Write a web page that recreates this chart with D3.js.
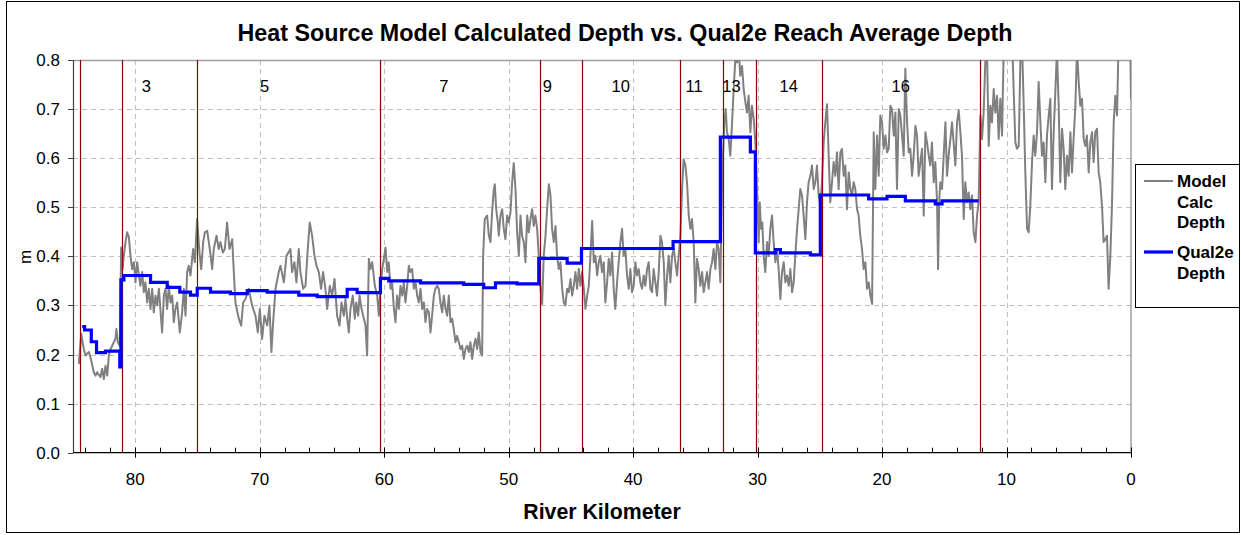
<!DOCTYPE html>
<html><head><meta charset="utf-8">
<script src="https://cdn.jsdelivr.net/npm/d3@7/dist/d3.min.js"></script>
<style>
html,body{margin:0;padding:0;background:#fff;}
svg{display:block;font-family:"Liberation Sans",Arial,sans-serif;}
</style></head>
<body><svg id="chart" width="1241" height="535"></svg>
<script>
// ---------- data ----------
const title = "Heat Source Model Calculated Depth vs. Qual2e Reach Average Depth";
const xTitle = "River Kilometer";
const yTitle = "m";
const xTicksMajor = [80, 70, 60, 50, 40, 30, 20, 10, 0];
const yTicks = [0, 0.1, 0.2, 0.3, 0.4, 0.5, 0.6, 0.7, 0.8];
const legendLabels = [["Model", "Calc", "Depth"], ["Qual2e", "Depth"]];

// reach boundaries (km) and reach labels
const reachBoundaryKm = [84.4, 81.1, 75.0, 60.3, 47.5, 44.1, 36.2, 32.8, 30.1, 24.8, 12.1];
const reachLabels = ["3", "5", "7", "9", "10", "11", "13", "14", "16"];
const reachLabelKm = [79.1, 69.6, 55.2, 46.9, 41.0, 35.1, 32.1, 27.5, 18.5];

// Qual2e reach average depth (step starts)
const qualKm = [84.26, 84.07, 83.53, 83.11, 82.39, 81.24, 81.15, 80.91, 78.77, 77.43, 76.42, 75.56, 75.02, 73.95, 72.35, 71.0, 69.4, 66.86, 65.38, 62.97, 62.17, 60.30, 59.63, 57.08, 53.61, 52.0, 51.06, 49.32, 47.58, 45.30, 44.15, 36.79, 32.99, 30.58, 30.18, 28.57, 28.17, 25.76, 24.96, 21.08, 19.6, 18.13, 15.72, 15.18, 12.24];
const qualDepth = [0.257, 0.250, 0.226, 0.204, 0.207, 0.175, 0.352, 0.361, 0.347, 0.337, 0.327, 0.321, 0.335, 0.327, 0.324, 0.330, 0.327, 0.321, 0.318, 0.333, 0.326, 0.355, 0.350, 0.346, 0.343, 0.336, 0.346, 0.344, 0.396, 0.386, 0.416, 0.430, 0.643, 0.613, 0.407, 0.414, 0.407, 0.403, 0.525, 0.517, 0.522, 0.513, 0.507, 0.513, 0.513];

// Heat Source model calculated depth
const modelKm = [
84.53,84.34,84.13,84.00,83.73,83.59,83.33,83.19,83.06,82.79,82.66,82.52,82.39,82.25,82.12,81.99,81.85,81.72,81.59,81.51,81.40,81.24,
81.13,81.02,80.92,80.78,80.65,80.51,80.38,80.25,80.11,79.98,79.85,79.71,79.58,79.44,79.31,79.18,79.04,78.91,78.77,78.64,78.51,78.37,78.24,78.10,
77.84,77.70,77.57,77.44,77.30,77.17,77.03,76.90,76.77,76.63,76.42,76.23,76.10,75.96,75.83,75.70,75.56,75.35,75.21,75.03,74.84,74.70,74.54,74.41,
74.22,74.01,73.82,73.69,73.47,73.29,73.15,72.96,72.80,72.62,72.43,72.21,72.08,71.95,71.68,71.49,71.33,71.14,70.88,70.61,70.34,70.15,69.99,69.81,
69.62,69.40,69.22,69.06,68.92,68.73,68.47,68.33,68.06,67.85,67.53,67.40,67.21,67.05,66.86,66.73,66.51,66.32,66.14,65.98,65.79,65.60,65.44,65.25,
65.07,64.91,64.72,64.58,64.37,64.18,63.99,63.78,
63.59,63.43,63.24,63.11,62.97,62.84,62.71,62.52,62.36,62.25,62.09,61.98,61.82,61.63,61.50,61.37,61.23,61.10,60.96,60.75,60.56,60.43,60.30,60.16,
59.89,59.76,59.63,59.49,59.36,59.22,59.09,58.96,58.82,58.69,58.55,58.42,58.29,58.15,58.02,57.89,57.75,57.62,57.48,57.35,57.22,57.08,56.95,56.81,
56.68,56.55,56.41,56.28,56.15,56.01,55.88,55.74,55.61,55.48,55.34,55.21,55.07,54.94,54.81,54.67,54.54,54.41,54.27,54.14,54.00,53.87,53.74,53.60,
53.47,53.33,53.20,53.07,52.93,52.80,52.66,52.53,52.40,52.26,52.13,52.05,51.92,51.73,51.59,51.46,51.33,51.19,51.11,51.00,50.87,50.79,50.66,50.52,
50.39,50.26,50.12,49.99,49.85,49.72,49.59,49.45,49.32,49.18,49.05,48.92,48.78,48.65,48.51,48.38,48.25,48.11,47.98,47.85,47.71,47.58,47.44,47.31,
47.18,47.04,46.91,46.77,46.64,46.51,46.37,46.24,46.11,45.97,45.84,45.70,45.57,45.44,45.30,45.17,45.03,44.90,44.77,44.63,44.50,44.36,44.23,44.10,
43.96,43.83,43.69,43.56,43.43,43.29,43.16,43.03,42.89,42.76,
42.63,42.50,42.36,42.23,42.09,41.96,41.83,41.69,41.56,41.43,41.29,41.16,41.02,40.89,40.76,40.62,40.49,40.35,40.22,40.09,39.95,39.82,39.69,39.55,
39.42,39.28,39.15,39.02,38.88,38.75,38.61,38.48,38.35,38.21,38.08,37.94,37.81,37.68,37.54,37.41,37.27,37.14,37.01,36.87,36.74,36.61,36.47,36.34,
36.20,36.07,35.94,35.80,35.67,35.53,35.40,35.27,35.13,35.00,34.87,34.73,34.60,34.46,34.33,34.20,34.06,33.93,33.79,33.66,33.53,33.39,33.26,33.13,
32.99,32.86,32.78,32.67,32.56,32.46,32.32,32.19,32.05,31.92,31.79,31.65,31.52,31.39,31.25,31.12,30.98,30.85,30.72,30.58,30.45,30.31,30.18,30.05,
29.91,29.83,29.72,29.62,29.51,29.38,29.24,29.11,28.98,28.84,28.71,28.57,28.44,28.31,28.17,28.04,27.90,27.77,27.64,27.50,27.37,27.23,27.10,26.97,
26.83,26.70,26.57,26.43,26.30,26.16,26.03,25.90,25.76,25.63,25.49,25.36,25.23,25.09,24.96,24.83,24.69,24.56,24.42,24.29,24.16,24.02,23.89,23.75,
23.62,23.49,23.35,23.22,23.08,22.95,22.82,22.68,22.55,22.42,22.28,22.15,22.01,21.88,21.75,21.61,21.48,
21.34,21.21,21.07,20.94,20.80,20.67,20.54,20.40,20.27,20.14,20.00,19.87,19.73,19.60,19.47,19.33,19.20,19.06,18.93,18.80,18.66,18.53,18.39,18.26,
18.13,17.99,17.86,17.73,17.59,17.46,17.32,17.19,17.06,16.92,16.79,16.65,16.52,16.39,16.25,16.12,15.99,15.85,15.72,15.58,15.50,15.40,15.32,15.18,
15.05,14.91,14.78,14.65,14.51,14.38,14.25,14.11,13.98,13.84,13.71,13.58,13.44,13.31,13.17,13.04,12.91,12.77,12.64,12.50,12.37,12.24,12.10,11.97,
11.84,11.70,11.57,11.43,11.30,11.17,11.03,10.90,10.76,10.63,10.50,10.36,10.23,10.10,9.83,9.56,9.43,9.29,9.16,9.02,8.89,8.76,8.62,8.49,
8.35,8.22,8.09,7.95,7.82,7.69,7.55,7.42,7.28,7.15,7.02,6.88,6.75,6.61,6.48,6.35,6.21,6.08,5.95,5.81,5.68,5.54,5.41,5.28,
5.14,5.01,4.87,4.74,4.61,4.47,4.34,4.20,4.07,3.94,3.80,3.67,3.54,3.40,3.27,3.13,3.00,2.87,2.73,2.60,2.47,2.33,2.20,2.06,
1.93,1.80,1.66,1.53,1.39,1.26,1.12,0.99,0.72,0.46,0.19,0.05,0.00];
const modelDepth = [
.181,.242,.211,.198,.205,.194,.164,.157,.164,.154,.171,.150,.177,.157,.198,.211,.218,.225,.232,.252,.225,.218,
.418,.374,.401,.429,.449,.439,.401,.374,.388,.347,.388,.361,.340,.368,.327,.347,.306,.334,.293,.334,.286,.320,.300,.334,
.245,.320,.334,.293,.340,.306,.320,.266,.293,.306,.245,.286,.334,.279,.368,.381,.361,.415,.388,.476,.408,.374,.429,.449,
.452,.415,.374,.415,.442,.415,.429,.408,.415,.469,.415,.435,.368,.306,.273,.259,.306,.313,.334,.300,.279,.245,.293,.232,
.279,.259,.300,.205,.266,.334,.368,.381,.347,.401,.415,.368,.388,.347,.415,.368,.334,.340,.415,.469,.442,.401,.381,.368,
.334,.368,.334,.293,.340,.320,.354,.279,
.259,.306,.279,.313,.273,.245,.293,.320,.273,.306,.279,.320,.293,.273,.259,.198,.395,.374,.388,.340,.320,.279,.334,.374,
.418,.368,.388,.334,.347,.293,.266,.320,.293,.340,.320,.347,.306,.340,.381,.368,.374,.334,.347,.320,.306,.334,.293,.306,
.266,.293,.286,.245,.279,.320,.334,.340,.334,.306,.286,.320,.293,.279,.320,.266,.273,.252,.225,.238,.225,.211,.218,.191,
.211,.218,.205,.225,.191,.218,.232,.211,.245,.205,.198,.401,.476,.483,.442,.429,.490,.537,.547,.496,.469,.442,.483,.496,
.456,.435,.483,.469,.490,.551,.590,.537,.449,.401,.483,.442,.429,.388,.483,.449,.476,.496,.462,.483,.456,.401,.334,.303,
.401,.442,.496,.547,.524,.456,.429,.462,.401,.374,.388,.334,.306,.300,.334,.327,.354,.320,.340,.368,.334,.374,.340,.368,
.334,.293,.320,.340,.401,.472,.388,.401,.361,.388,
.401,.368,.388,.306,.347,.395,.361,.408,.334,.293,.347,.388,.429,.456,.401,.415,.361,.334,.374,.327,.340,.388,.361,.374,
.347,.334,.361,.340,.374,.388,.334,.327,.374,.347,.320,.368,.442,.429,.388,.300,.361,.401,.347,.401,.415,.388,.361,.401,
.442,.537,.598,.585,.551,.483,.456,.476,.429,.306,.395,.374,.340,.368,.327,.347,.368,.334,.374,.388,.415,.374,.429,.415,
.347,.537,.605,.673,.700,.653,.639,.605,.673,.741,.800,.795,.820,.768,.788,.741,.714,.693,.727,.653,.707,.680,.632,.537,
.429,.510,.456,.469,.401,.368,.429,.401,.456,.483,.429,.388,.415,.374,.313,.368,.388,.347,.361,.340,.374,.327,.347,.401,
.456,.496,.537,.524,.483,.435,.510,.551,.564,.585,.537,.551,.585,.524,.503,.551,.632,.673,.710,.605,.510,.551,.592,.564,
.612,.537,.612,.619,.564,.585,.496,.571,.537,.524,.551,.537,.496,.483,.442,.415,.374,
.388,.334,.347,.320,.303,.653,.537,.646,.564,.687,.673,.619,.646,.612,.619,.707,.700,.646,.693,.537,.700,.687,.646,.605,
.782,.673,.612,.619,.564,.605,.666,.646,.564,.592,.619,.483,.653,.632,.605,.585,.632,.551,.592,.510,.374,.517,.551,.537,
.605,.673,.564,.605,.639,.673,.632,.585,.673,.697,.653,.605,.476,.551,.510,.530,.496,.524,.449,.429,.483,.510,.687,.639,
.693,.800,.820,.625,.707,.673,.741,.693,.727,.639,.721,.646,.820,.850,.880,.850,.741,.632,.619,.625,.795,.840,.707,.571,
.456,.449,.503,.592,.646,.605,.653,.755,.673,.605,.632,.551,.646,.687,.721,.537,.653,.734,.820,.707,.551,.660,.619,.537,
.605,.564,.653,.571,.639,.707,.820,.755,.707,.721,.639,.625,.646,.571,.632,.653,.592,.653,.660,.571,.551,.503,.429,.435,
.442,.334,.401,.503,.673,.727,.687,.850,.900,.880,.850,.820,.720];

// ---------- chart ----------
const W = 1241, H = 535;
const plot = {left: 73, right: 1131, top: 60, bottom: 452.7};
const svg = d3.select("#chart");

const x = d3.scaleLinear().domain([85, 0]).range([plot.left, plot.right]);
const y = d3.scaleLinear().domain([0, 0.8]).range([plot.bottom, plot.top]);

svg.append("rect").attr("x", 0).attr("y", 0).attr("width", W).attr("height", H).attr("fill", "#fff");
// outer chart border
svg.append("rect").attr("x", 6.5).attr("y", 1.5).attr("width", 1233).attr("height", 531)
  .attr("fill", "none").attr("stroke", "#000").attr("stroke-width", 1);

// gridlines
const grid = svg.append("g");
grid.selectAll("line.h").data(yTicks.filter(v => v > 0 && v < 0.8)).join("line")
  .attr("x1", plot.left).attr("x2", plot.right)
  .attr("y1", d => Math.round(y(d)) + 0.5).attr("y2", d => Math.round(y(d)) + 0.5)
  .attr("stroke", "#c0c0c0").attr("stroke-dasharray", "5,4");
grid.selectAll("line.v").data(xTicksMajor.filter(v => v > 0)).join("line")
  .attr("x1", d => Math.round(x(d)) + 0.5).attr("x2", d => Math.round(x(d)) + 0.5)
  .attr("y1", plot.top).attr("y2", plot.bottom)
  .attr("stroke", "#c0c0c0").attr("stroke-dasharray", "5,4");

// plot border top & right (gray)
svg.append("path")
  .attr("d", `M${plot.left},${plot.top + 0.5}H${plot.right}V${plot.bottom}`)
  .attr("fill", "none").attr("stroke", "#a0a0a0").attr("stroke-width", 1.5);

// clip
svg.append("clipPath").attr("id", "clip").append("rect")
  .attr("x", plot.left).attr("y", plot.top).attr("width", plot.right - plot.left).attr("height", plot.bottom - plot.top);

// model line
const modelData = modelKm.map((k, i) => [k, modelDepth[i]]);
svg.append("path").datum(modelData)
  .attr("clip-path", "url(#clip)")
  .attr("d", d3.line().x(d => x(d[0])).y(d => y(d[1])))
  .attr("fill", "none").attr("stroke", "#808080").attr("stroke-width", 2).attr("stroke-linejoin", "round");

// reach boundaries
svg.append("g").selectAll("line").data(reachBoundaryKm).join("line")
  .attr("x1", d => Math.round(x(d)) + 0.5).attr("x2", d => Math.round(x(d)) + 0.5)
  .attr("y1", plot.top).attr("y2", plot.bottom)
  .attr("stroke", "#8b0000").attr("stroke-width", 1.2);

// qual2e step line
const qualData = qualKm.map((k, i) => [k, qualDepth[i]]);
svg.append("path").datum(qualData)
  .attr("d", d3.line().x(d => x(d[0])).y(d => y(d[1])).curve(d3.curveStepAfter))
  .attr("fill", "none").attr("stroke", "#0000ff").attr("stroke-width", 3.2);

// reach labels
svg.append("g").selectAll("text").data(reachLabels).join("text")
  .attr("x", (d, i) => x(reachLabelKm[i])).attr("y", 92)
  .attr("text-anchor", "middle").attr("font-size", 16.5).attr("fill", "#000")
  .text(d => d);

// y axis
svg.append("line").attr("x1", plot.left + 0.5).attr("x2", plot.left + 0.5)
  .attr("y1", plot.top).attr("y2", plot.bottom).attr("stroke", "#404040").attr("stroke-width", 1.2);
svg.append("g").selectAll("line").data(yTicks).join("line")
  .attr("x1", plot.left - 5).attr("x2", plot.left)
  .attr("y1", d => Math.round(y(d)) + 0.5).attr("y2", d => Math.round(y(d)) + 0.5)
  .attr("stroke", "#404040");
svg.append("g").selectAll("text").data(yTicks).join("text")
  .attr("x", 60).attr("y", d => y(d) + 6)
  .attr("text-anchor", "end").attr("font-size", 17)
  .text(d => d3.format(".1f")(d));

// x axis
svg.append("line").attr("x1", plot.left).attr("x2", plot.right)
  .attr("y1", plot.bottom).attr("y2", plot.bottom).attr("stroke", "#000").attr("stroke-width", 1.3);
const minorTicks = d3.range(84, -1, -2);
svg.append("g").selectAll("line").data(minorTicks).join("line")
  .attr("x1", d => Math.round(x(d)) + 0.5).attr("x2", d => Math.round(x(d)) + 0.5)
  .attr("y1", plot.bottom - 5).attr("y2", plot.bottom)
  .attr("stroke", "#000");
svg.append("g").selectAll("line").data(xTicksMajor).join("line")
  .attr("x1", d => Math.round(x(d)) + 0.5).attr("x2", d => Math.round(x(d)) + 0.5)
  .attr("y1", plot.bottom - 5).attr("y2", plot.bottom + 5)
  .attr("stroke", "#000");
svg.append("g").selectAll("text").data(xTicksMajor).join("text")
  .attr("x", d => x(d)).attr("y", 485)
  .attr("text-anchor", "middle").attr("font-size", 17)
  .text(d => d);

// titles
svg.append("text").attr("x", 625).attr("y", 41).attr("text-anchor", "middle")
  .attr("font-size", 23.3).attr("font-weight", "bold").text(title);
svg.append("text").attr("x", 602).attr("y", 519).attr("text-anchor", "middle")
  .attr("font-size", 21.3).attr("font-weight", "bold").text(xTitle);
svg.append("text").attr("transform", "translate(31,257) rotate(-90)").attr("text-anchor", "middle")
  .attr("font-size", 17).text(yTitle);

// legend
const lg = svg.append("g");
lg.append("rect").attr("x", 1135.5).attr("y", 164.5).attr("width", 104).attr("height", 143)
  .attr("fill", "#fff").attr("stroke", "#000");
const legendColors = ["#808080", "#0000ff"];
const legendLineY = [181, 252];
const legendWidths = [2, 3.2];
legendLabels.forEach((lines, i) => {
  lg.append("line").attr("x1", 1144).attr("x2", 1173).attr("y1", legendLineY[i]).attr("y2", legendLineY[i])
    .attr("stroke", legendColors[i]).attr("stroke-width", legendWidths[i]);
  lines.forEach((t, j) => {
    lg.append("text").attr("x", 1177).attr("y", legendLineY[i] + 6 + j * 20.5)
      .attr("font-size", 17).attr("font-weight", "bold").text(t);
  });
});
</script></body></html>
